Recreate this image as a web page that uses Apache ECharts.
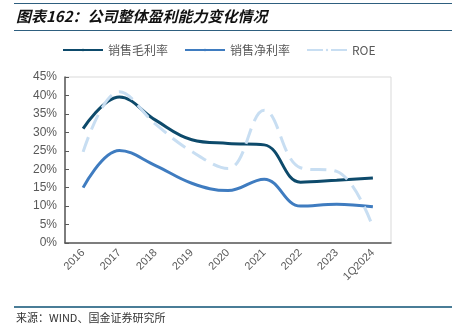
<!DOCTYPE html>
<html><head><meta charset="utf-8">
<script src="https://cdn.jsdelivr.net/npm/echarts@6/dist/echarts.min.js"></script>
<style>html,body{margin:0;padding:0;background:#fff;}#c{width:452px;height:333px;}</style>
</head><body><div id="c"></div>
<script>
var categories = ['2016','2017','2018','2019','2020','2021','2022','2023','1Q2024'];
var grossMargin = [31.0, 39.6, 33.3, 28.0, 27.0, 26.6, 16.5, 17.0, 17.6];
var netMargin = [15.0, 25.1, 21.0, 16.2, 14.2, 17.3, 10.0, 10.5, 9.8];
var roe = [24.7, 41.0, 32.2, 24.8, 20.2, 36.0, 20.4, 19.4, 4.3];
var yTicks = [0,5,10,15,20,25,30,35,40,45];

var chart = echarts.init(document.getElementById('c'), null, {renderer:'canvas'});
chart.setOption({
  animation:false,
  graphic:[
    {type:'line', shape:{x1:14,y1:3.5,x2:452,y2:3.5}, style:{stroke:'#2e5f7f',lineWidth:1}},
    {type:'text', left:16, top:9, style:{text:'图表162：公司整体盈利能力变化情况', font:'italic bold 15px "Noto Sans CJK SC"', fill:'#111'}},
    {type:'line', shape:{x1:14,y1:30.5,x2:452,y2:30.5}, style:{stroke:'#2e5f7f',lineWidth:1}},
    {type:'line', shape:{x1:14,y1:307,x2:452,y2:307}, style:{stroke:'#4a7d97',lineWidth:2}},
    {type:'text', left:16, top:312, style:{text:'来源：WIND、国金证券研究所', font:'11px "Noto Sans CJK SC"', fill:'#333'}}
  ],
  legend:{
    top:39, left:57, itemWidth:40, itemHeight:3, itemGap:16,
    textStyle:{fontFamily:'"Noto Sans CJK SC"', fontSize:12, color:'#595959'},
    data:['销售毛利率','销售净利率','ROE']
  },
  grid:{left:65, right:61, top:77, bottom:90, show:true, borderColor:'#d9d9d9', borderWidth:1},
  xAxis:{
    type:'category', data:categories, boundaryGap:true,
    axisLine:{lineStyle:{color:'#595959', width:1.5}},
    axisTick:{inside:true, length:4, alignWithLabel:false, lineStyle:{color:'#595959'}},
    axisLabel:{rotate:45, color:'#595959', fontSize:11, fontFamily:'Arial', margin:8}
  },
  yAxis:{
    type:'value', min:0, max:45, interval:5,
    axisLine:{show:true, lineStyle:{color:'#595959', width:1.5}},
    axisTick:{show:true, inside:true, length:4, lineStyle:{color:'#595959'}},
    splitLine:{show:false},
    axisLabel:{formatter:function(v){return v+'%';}, color:'#595959', fontSize:12, fontFamily:'Arial', margin:8}
  },
  series:[
    {name:'销售毛利率', type:'line', smooth:0.4, data:grossMargin, symbol:'none',
     lineStyle:{color:'#0d4a6b', width:3}, itemStyle:{color:'#0d4a6b'}},
    {name:'销售净利率', type:'line', smooth:0.4, data:netMargin, symbol:'none',
     lineStyle:{color:'#3f7cc0', width:3}, itemStyle:{color:'#3f7cc0'}},
    {name:'ROE', type:'line', smooth:0.4, data:roe, symbol:'none',
     lineStyle:{color:'#c8def2', width:3, type:[16,8]}, itemStyle:{color:'#c8def2'}}
  ]
});
</script></body></html>
